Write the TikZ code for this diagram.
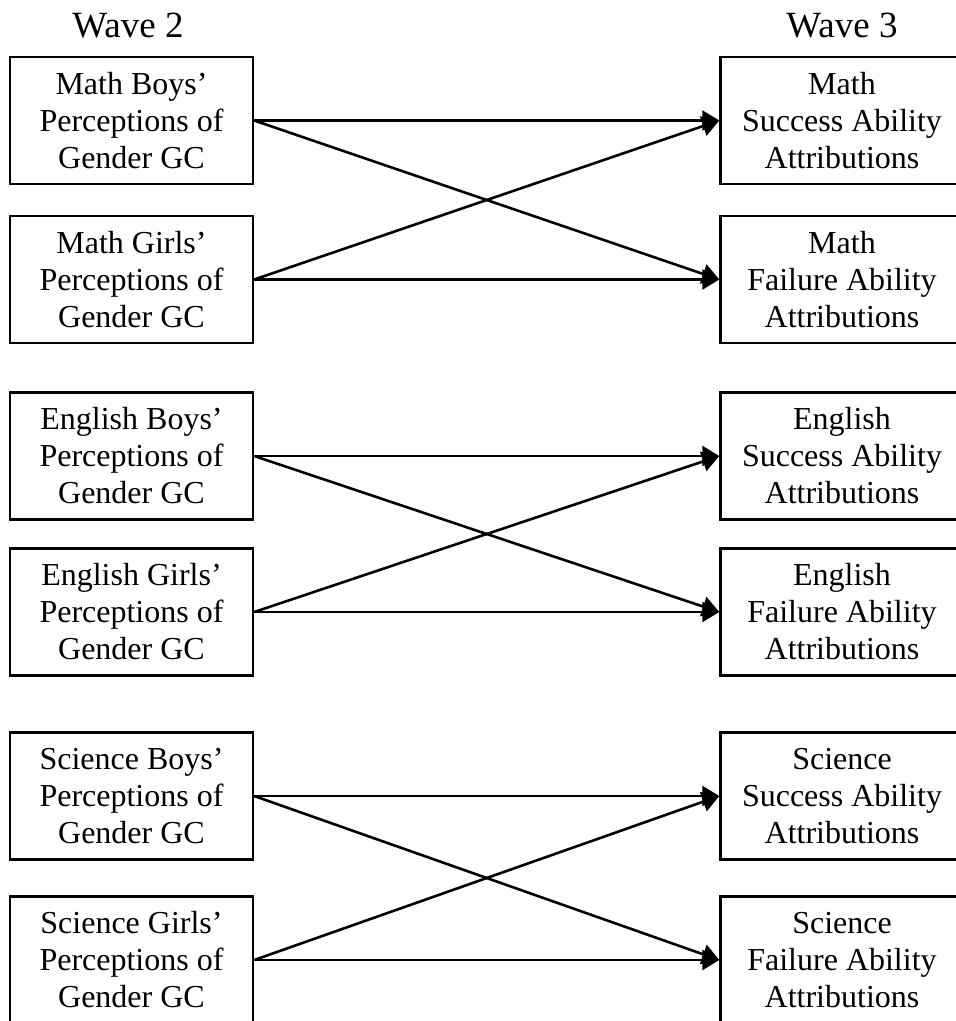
\documentclass[tikz,border=0pt]{standalone}
\usepackage{fontspec}
\setmainfont{Liberation Serif}
\usetikzlibrary{arrows.meta}
\begin{document}
\begin{tikzpicture}[x=1pt,y=-1pt,
  box/.style={draw, line width=2.4pt, minimum width=243pt, minimum height=127pt,
    inner sep=0pt, align=center, font=\fontsize{32}{37}\selectfont},
  head/.style={font=\fontsize{37}{40}\selectfont, inner sep=0pt},
  link/.style={line width=2.6pt, -{Triangle[length=17pt,width=20pt]}}]
\clip (0,0) rectangle (956,1021);
% column headings
\node[head, anchor=base] (w2) at (128,37) {Wave 2};
\node[head, anchor=base] (w3) at (842,37) {Wave 3};
% left column: wave 2 perceptions
\node[box] (mb) at (131.5,120.5) {Math Boys’\\Perceptions of\\Gender GC};
\node[box] (mg) at (131.5,279.5) {Math Girls’\\Perceptions of\\Gender GC};
\node[box] (eb) at (131.5,456) {English Boys’\\Perceptions of\\Gender GC};
\node[box] (eg) at (131.5,612) {English Girls’\\Perceptions of\\Gender GC};
\node[box] (sb) at (131.5,796) {Science Boys’\\Perceptions of\\Gender GC};
\node[box] (sg) at (131.5,960) {Science Girls’\\Perceptions of\\Gender GC};
% right column: wave 3 attributions
\node[box] (ms) at (842,120.5) {Math\\Success Ability\\Attributions};
\node[box] (mf) at (842,279.5) {Math\\Failure Ability\\Attributions};
\node[box] (es) at (842,456) {English\\Success Ability\\Attributions};
\node[box] (ef) at (842,612) {English\\Failure Ability\\Attributions};
\node[box] (ss) at (842,796) {Science\\Success Ability\\Attributions};
\node[box] (sf) at (842,960) {Science\\Failure Ability\\Attributions};
% paths
\foreach \b/\g/\s/\f in {mb/mg/ms/mf, eb/eg/es/ef, sb/sg/ss/sf}{
  \draw[link] (\b.east) -- (\s.west);
  \draw[link] (\b.east) -- (\f.west);
  \draw[link] (\g.east) -- (\s.west);
  \draw[link] (\g.east) -- (\f.west);
}
\end{tikzpicture}
\end{document}
